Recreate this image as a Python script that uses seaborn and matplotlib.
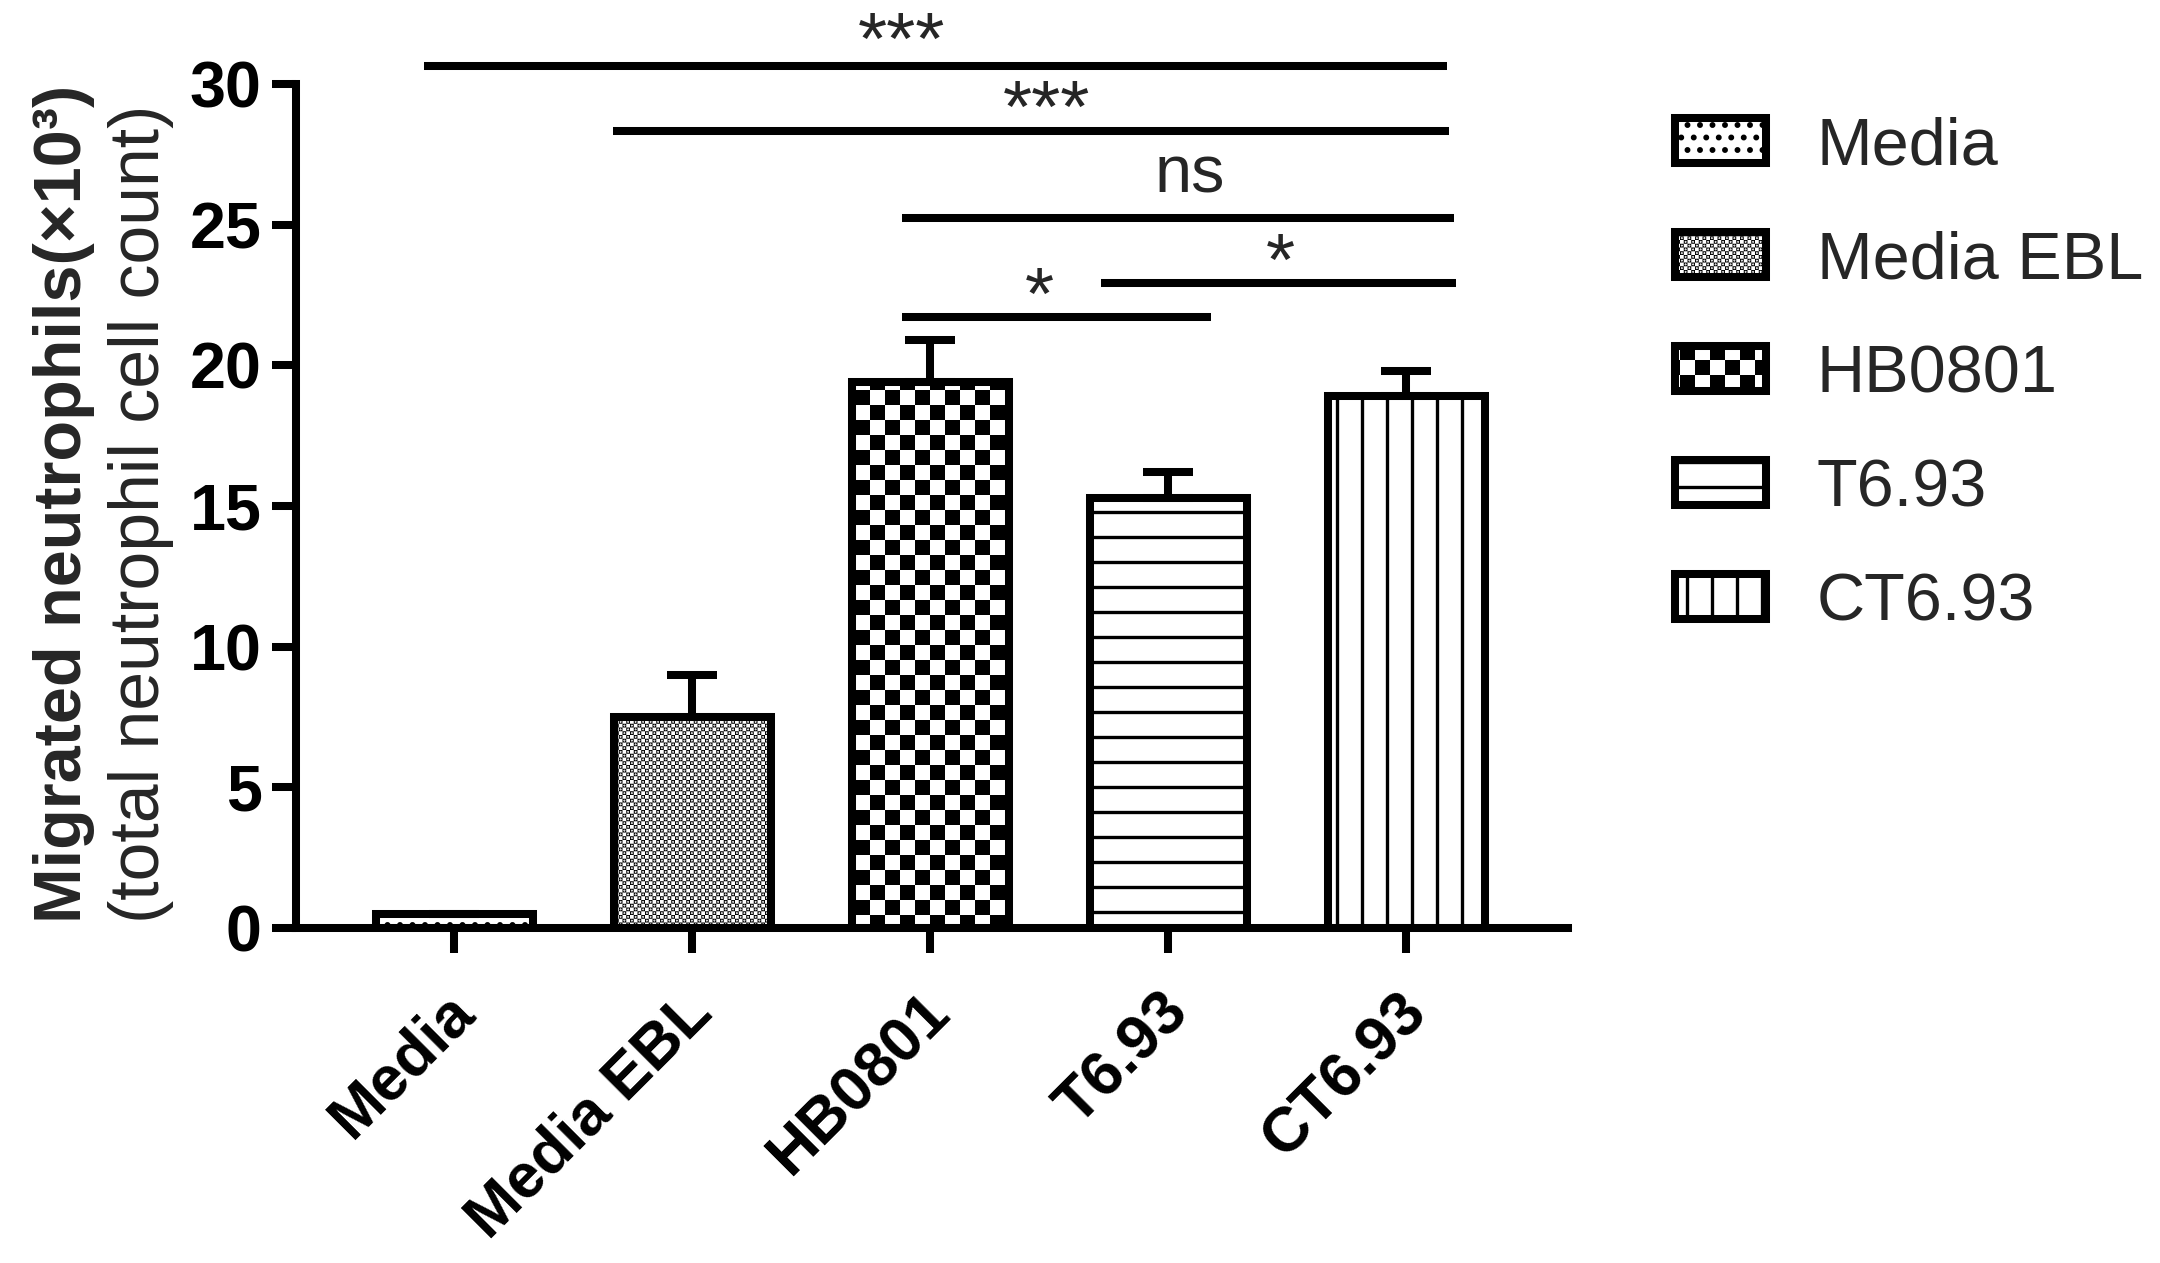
import warnings
import numpy as np
import pandas as pd
import matplotlib
matplotlib.use("Agg")
import matplotlib.pyplot as plt
import matplotlib.hatch as mhatch
import matplotlib.transforms as mtransforms
from matplotlib.path import Path
import seaborn as sns

warnings.filterwarnings("ignore")

# ---------------- data ----------------
categories = ["Media", "Media EBL", "HB0801", "T6.93", "CT6.93"]
means = [0.5, 7.5, 19.4, 15.3, 18.9]
sems = [0.0, 1.5, 1.5, 0.9, 0.9]
hatches = ["..", "cccc", "c", "-", "|"]
y_ticks = [0, 5, 10, 15, 20, 25, 30]

# significance annotations (x in category units, y in data units)
sig_start = [-0.126, 0.668, 1.88, 2.72, 1.88]
sig_end = [4.17, 4.18, 4.20, 4.21, 3.18]
sig_y = [30.65, 28.33, 25.24, 22.93, 21.72]
sig_labels = ["***", "***", "ns", "*", "*"]
sig_label_x = [1.88, 2.49, 3.09, 3.47, 2.46]
sig_label_y = [30.70, 28.30, 26.16, 22.87, 21.65]

# ---------------- style ----------------
DPI = 150
LW = 3.85
sns.set_style("ticks")
plt.rcParams["font.family"] = ["Liberation Sans", "DejaVu Sans"]
plt.rcParams["hatch.linewidth"] = 1.6
plt.rcParams["hatch.color"] = "black"
HATCH_LW_PX = plt.rcParams["hatch.linewidth"] * DPI / 72.0


class CheckerHatch(mhatch.HatchPatternBase):
    """Filled checkerboard hatch, triggered by the character 'c'."""

    def __init__(self, hatch, density):
        k = hatch.count("c")
        self.n = 5 * k
        self.num_vertices = (2 * self.n) * self.n * 5

    def set_vertices_and_codes(self, vertices, codes):
        n = self.n
        s = 1.0 / (2 * n)
        s_px = s * DPI
        side = max(s * 0.08, s * (1 - HATCH_LW_PX / s_px))
        off = (s - side) / 2
        idx = 0
        for r in range(2 * n):
            for j in range(n):
                x = (2 * j + (r % 2)) * s + off
                y = r * s + off
                vertices[idx:idx + 5] = [(x, y), (x + side, y), (x + side, y + side),
                                         (x, y + side), (x, y)]
                codes[idx:idx + 5] = [Path.MOVETO, Path.LINETO, Path.LINETO,
                                      Path.LINETO, Path.CLOSEPOLY]
                idx += 5


mhatch._hatch_types.append(CheckerHatch)

fig = plt.figure(figsize=(2160 / DPI, 1263 / DPI), dpi=DPI)
ax = fig.add_axes([296 / 2160, 1 - 928 / 1263, (1568 - 296) / 2160, (928 - 84) / 1263])

df = pd.DataFrame({"group": categories, "value": means})
sns.barplot(data=df, x="group", y="value", hue="group", order=categories,
            hue_order=categories, palette=["white"] * len(categories), saturation=1,
            width=0.66, edgecolor="black", linewidth=LW, errorbar=None,
            legend=False, ax=ax)

bars = sorted(ax.patches, key=lambda p: p.get_x())
for p, h in zip(bars, hatches):
    p.set_hatch(h)

centers = [p.get_x() + p.get_width() / 2 for p in bars]
ax.errorbar(centers, means, yerr=[np.zeros(len(sems)), sems], fmt="none",
            ecolor="black", elinewidth=LW, capsize=12, capthick=LW, zorder=3)

ax.set_xlim(-0.664, 4.68)
ax.set_ylim(0, 30)
ax.set_yticks(y_ticks)
ax.set_yticklabels([str(t) for t in y_ticks], fontsize=31, fontweight="bold")
ax.set_xticks(range(len(categories)))
ax.set_xticklabels(categories, rotation=45, ha="right", rotation_mode="anchor",
                   fontsize=30, fontweight="bold")
ax.tick_params(axis="y", width=LW, length=11.5, pad=5, colors="black")
ax.tick_params(axis="x", width=LW, length=12, pad=14, colors="black")
offset = mtransforms.ScaledTranslation(-10 / DPI, 0, fig.dpi_scale_trans)
for lab in ax.get_xticklabels():
    lab.set_transform(lab.get_transform() + offset)

ax.set_xlabel("")
ax.set_ylabel("")
sns.despine(ax=ax)
for sp in ["left", "bottom"]:
    ax.spines[sp].set_linewidth(LW)
    ax.spines[sp].set_color("black")

# y-axis label (two lines)
fig.text(64 / 2160, 0.269, "Migrated neutrophils(×10³)", rotation=90, ha="center",
         va="bottom", fontsize=32, fontweight="bold")
fig.text(141 / 2160, 0.269, "(total neutrophil cell count)", rotation=90, ha="center",
         va="bottom", fontsize=33.5)

# significance bars
for x0, x1, y in zip(sig_start, sig_end, sig_y):
    ax.plot([x0, x1], [y, y], color="black", lw=LW, solid_capstyle="butt",
            clip_on=False, zorder=4)
for lx, ly, lab in zip(sig_label_x, sig_label_y, sig_labels):
    ax.text(lx, ly, lab, ha="center", va="baseline",
            fontsize=32 if lab == "ns" else 36, clip_on=False)

# legend
fig.legend(handles=bars, labels=categories, loc="upper left",
           bbox_to_anchor=(1675 / 2160, 0.908), frameon=False, fontsize=32,
           handlelength=1.36, handleheight=0.66, handletextpad=0.77,
           labelspacing=0.78, borderpad=0, borderaxespad=0)

fig.savefig("out.png", dpi=DPI, facecolor="white")
